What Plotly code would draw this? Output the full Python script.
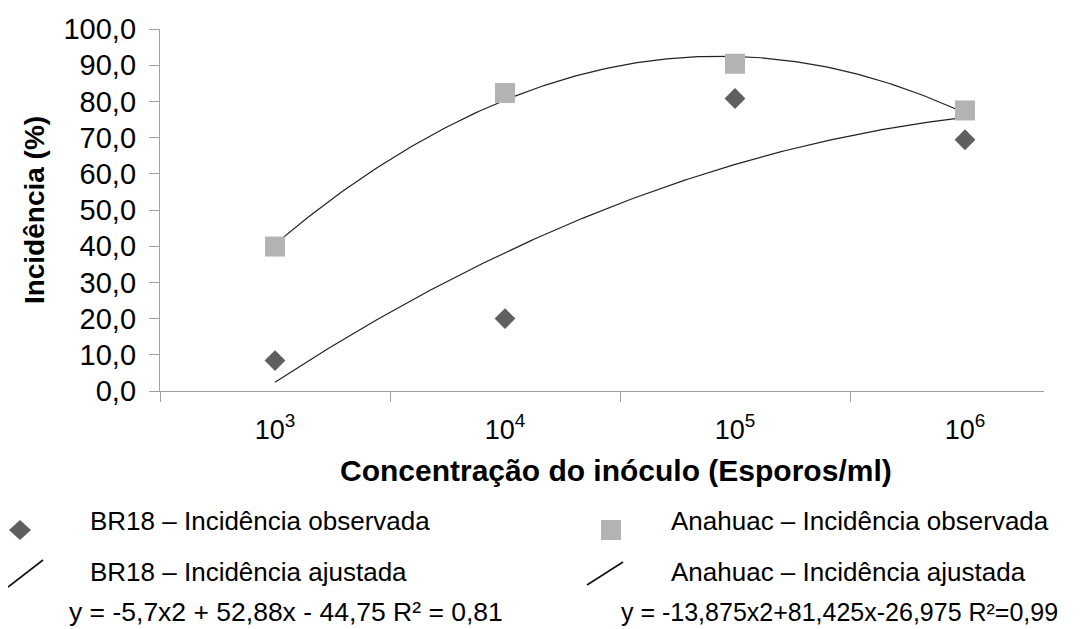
import numpy as np
import plotly.graph_objects as go

# ---- data ----
categories = ["10<sup>3</sup>", "10<sup>4</sup>", "10<sup>5</sup>", "10<sup>6</sup>"]
cat_pos = [1, 2, 3, 4]
br18_obs = [8.4, 20.0, 80.8, 69.4]
anahuac_obs = [39.9, 82.3, 90.4, 77.5]
# trendline coefficients shown in the chart (x = category index 1..4)
br18_coef = [-5.7, 52.88, -44.75]
anahuac_coef = [-13.875, 81.425, -26.975]
y_ticks = [0, 10, 20, 30, 40, 50, 60, 70, 80, 90, 100]

legend_labels = ["BR18 – Incidência observada", "BR18 – Incidência ajustada",
                 "Anahuac – Incidência observada", "Anahuac – Incidência ajustada"]
eq_labels = ["y = -5,7x2 + 52,88x - 44,75 R² = 0,81",
             "y = -13,875x2+81,425x-26,975 R²=0,99"]

FONT = "Liberation Sans, Arial, sans-serif"
DIAMOND_C = "#5f5f5f"
SQUARE_C = "#b3b3b3"
AXIS_C = "#a0a0a0"

# page body adds an 8px margin; the figure is laid out in page pixels minus that offset
OFF = 8
W, H = 1087 - OFF, 629 - OFF
# plot area in page pixels: x 160..1044, y 29..391
L, R, T, B = 160 - OFF, 1044 - OFF, 29 - OFF, 391 - OFF

def px(x):
    return (x - OFF - L) / (R - L)
def py(y):
    return (B - (y - OFF)) / (B - T)

xs = np.linspace(cat_pos[0], cat_pos[-1], 200)

fig = go.Figure()
fig.add_trace(go.Scatter(x=xs, y=np.polyval(br18_coef, xs), mode="lines",
                         line=dict(color="#222222", width=1.2), showlegend=False,
                         name=legend_labels[1]))
fig.add_trace(go.Scatter(x=xs, y=np.polyval(anahuac_coef, xs), mode="lines",
                         line=dict(color="#222222", width=1.2), showlegend=False,
                         name=legend_labels[3]))
fig.add_trace(go.Scatter(x=cat_pos, y=anahuac_obs, mode="markers",
                         marker=dict(symbol="square", size=20, color=SQUARE_C),
                         showlegend=False, name=legend_labels[2]))
fig.add_trace(go.Scatter(x=cat_pos, y=br18_obs, mode="markers",
                         marker=dict(symbol="diamond", size=16, color=DIAMOND_C),
                         showlegend=False, name=legend_labels[0]))

shapes = []
# diamond legend glyph
cx, cy, hw, hh = 20, 530, 11, 10
shapes.append(dict(type="path", xref="paper", yref="paper",
                   path=f"M {px(cx-hw)},{py(cy)} L {px(cx)},{py(cy-hh)} L {px(cx+hw)},{py(cy)} L {px(cx)},{py(cy+hh)} Z",
                   fillcolor=DIAMOND_C, line=dict(width=0)))
# square legend glyph
shapes.append(dict(type="rect", xref="paper", yref="paper",
                   x0=px(601), x1=px(621), y0=py(540), y1=py(520),
                   fillcolor=SQUARE_C, line=dict(width=0)))
# line legend glyphs
shapes.append(dict(type="line", xref="paper", yref="paper",
                   x0=px(8), y0=py(587), x1=px(43), y1=py(560),
                   line=dict(color="#111111", width=1.6)))
shapes.append(dict(type="line", xref="paper", yref="paper",
                   x0=px(587), y0=py(585), x1=px(623), y1=py(562),
                   line=dict(color="#111111", width=1.6)))

annotations = []
def txt(text, x, y, size=26, bold=False, xanchor="left"):
    t = f"<b>{text}</b>" if bold else text
    annotations.append(dict(text=t, x=px(x), y=py(y), xref="paper", yref="paper",
                            xanchor=xanchor, yanchor="middle", showarrow=False,
                            font=dict(family=FONT, size=size, color="#000000")))

txt(legend_labels[0], 88, 521)
txt(legend_labels[1], 88, 572)
txt(eq_labels[0], 67, 612, size=26.5)
txt(legend_labels[2], 669, 521)
txt(legend_labels[3], 669, 572)
txt(eq_labels[1], 619, 612, size=25)
# x axis title
txt("Concentração do inóculo (Esporos/ml)", 616, 470, size=30, bold=True, xanchor="center")

fig.update_layout(
    width=W, height=H,
    margin=dict(l=L, r=W - R, t=T, b=H - B, autoexpand=False),
    paper_bgcolor="white", plot_bgcolor="white",
    separators=",.",
    font=dict(family=FONT, color="#000000"),
    shapes=shapes, annotations=annotations,
    xaxis=dict(range=[0.5, 0.5 + (R - L) / 230.0], showline=True, linecolor=AXIS_C, linewidth=1.3,
               tickmode="array", tickvals=cat_pos, ticktext=categories, ticks="",
               tickfont=dict(family=FONT, size=27, color="#000000"),
               ticklabelstandoff=14,
               minor=dict(tickmode="array", tickvals=[0.5, 1.5, 2.5, 3.5], ticks="outside",
                          ticklen=10, tickcolor=AXIS_C, tickwidth=1.3, showgrid=False),
               showgrid=False, zeroline=False, fixedrange=True),
    yaxis=dict(range=[0, 100], showline=True, linecolor=AXIS_C, linewidth=1.3,
               tickmode="array", tickvals=y_ticks, tickformat=".1f",
               ticks="outside", ticklen=10, tickcolor=AXIS_C, tickwidth=1.3,
               ticklabelstandoff=7,
               tickfont=dict(family=FONT, size=29, color="#000000"),
               title=dict(text="<b>Incidência (%)</b>", standoff=10,
                          font=dict(family=FONT, size=28, color="#000000")),
               showgrid=False, zeroline=False, fixedrange=True),
)

fig.write_html("out.html")
